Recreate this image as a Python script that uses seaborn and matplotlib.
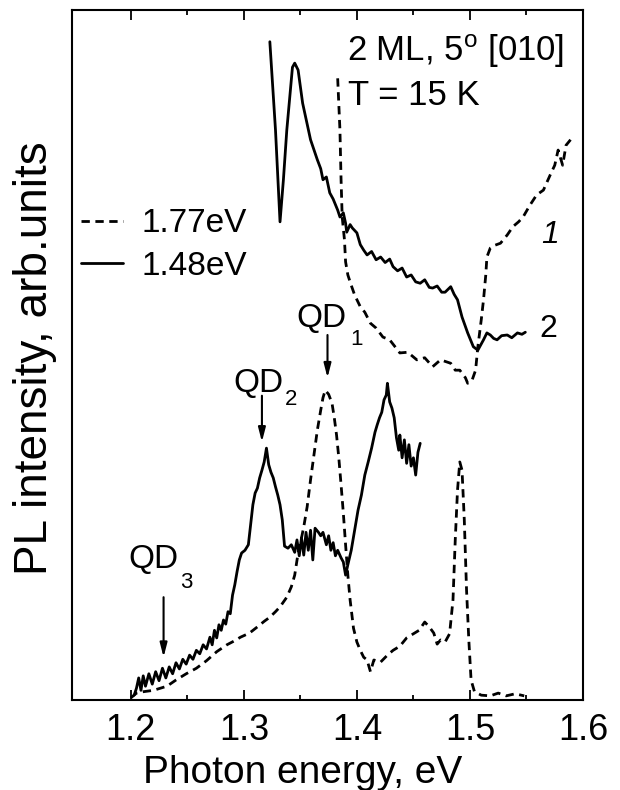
import numpy as np
import pandas as pd
import matplotlib
matplotlib.use("Agg")
import matplotlib.pyplot as plt
import seaborn as sns

# ---------------- data ----------------
# Excitation 1.48 eV (solid), lower spectrum
e148_low = [1.203, 1.205, 1.207, 1.209, 1.211, 1.213, 1.216, 1.219, 1.222, 1.225, 1.228, 1.231,
            1.234, 1.237, 1.240, 1.243, 1.246, 1.249, 1.252, 1.255, 1.258, 1.261, 1.264, 1.267,
            1.270, 1.272, 1.274, 1.276, 1.278, 1.280, 1.282, 1.284, 1.286, 1.288, 1.290, 1.292,
            1.294, 1.296, 1.298, 1.301, 1.304, 1.306, 1.308, 1.310, 1.312, 1.314, 1.316, 1.318,
            1.320, 1.322, 1.324, 1.326, 1.328, 1.330, 1.332, 1.334, 1.336, 1.339, 1.342, 1.345,
            1.347, 1.349, 1.351, 1.353, 1.355, 1.357, 1.359, 1.361, 1.363, 1.366, 1.368, 1.370,
            1.373, 1.375, 1.377, 1.379, 1.381, 1.383, 1.386, 1.388, 1.390, 1.392, 1.395, 1.398,
            1.401, 1.404, 1.407, 1.410, 1.413, 1.416, 1.418, 1.420, 1.422, 1.424, 1.426, 1.427,
            1.429, 1.431, 1.433, 1.435, 1.437, 1.438, 1.440, 1.442, 1.444, 1.446, 1.448, 1.450,
            1.452, 1.454, 1.456]
pl148_low = [0.7, 1.7, 3.2, 1.4, 3.5, 2.0, 3.8, 2.3, 4.1, 2.8, 4.6, 3.2,
             4.8, 3.8, 5.4, 4.5, 5.9, 5.2, 6.5, 5.9, 7.2, 6.7, 8.0, 7.4,
             9.1, 8.0, 10.1, 9.0, 10.9, 10.1, 11.6, 11.0, 12.8, 12.5, 15.2, 16.7,
             18.6, 20.3, 21.3, 21.7, 22.5, 25.4, 28.3, 30.0, 30.7, 32.2, 33.3, 34.5,
             36.5, 34.1, 33.0, 32.2, 30.9, 29.7, 28.3, 26.1, 22.3, 22.0, 22.5, 21.4,
             23.2, 20.9, 23.5, 21.0, 24.3, 21.7, 24.6, 20.3, 24.9, 24.3, 23.8, 24.3,
             22.5, 23.8, 21.7, 22.8, 20.9, 21.7, 20.6, 20.0, 18.1, 19.6, 21.7, 24.6,
             27.5, 29.7, 32.6, 34.5, 36.5, 38.8, 39.9, 40.9, 41.7, 43.5, 44.2, 45.9,
             43.2, 42.3, 40.9, 38.0, 36.2, 38.4, 35.1, 37.7, 34.3, 37.0, 33.9, 35.1,
             32.6, 35.9, 37.2]

# Excitation 1.48 eV (solid), upper spectrum
e148_up = [1.323, 1.328, 1.332, 1.335, 1.338, 1.343, 1.345, 1.348, 1.352, 1.359, 1.365,
           1.368, 1.370, 1.373, 1.376, 1.379, 1.383, 1.385, 1.388, 1.390, 1.391, 1.394,
           1.396, 1.400, 1.403, 1.406, 1.409, 1.413, 1.417, 1.421, 1.425, 1.429, 1.432,
           1.436, 1.440, 1.444, 1.448, 1.452, 1.456, 1.460, 1.464, 1.467, 1.471, 1.475,
           1.478, 1.483, 1.486, 1.489, 1.493, 1.498, 1.503, 1.507, 1.510, 1.512, 1.515,
           1.518, 1.521, 1.524, 1.528, 1.533, 1.537, 1.542, 1.546, 1.549]
pl148_up = [95.4, 82.6, 69.3, 75.4, 82.6, 91.7, 92.3, 91.3, 86.5, 81.2, 78.3,
            77.0, 75.4, 75.8, 73.5, 72.6, 71.0, 70.0, 70.6, 69.1, 67.8, 68.9,
            68.4, 67.7, 66.0, 65.2, 64.5, 65.0, 63.8, 64.2, 63.4, 63.9, 62.8,
            62.2, 62.6, 61.3, 61.6, 60.6, 60.4, 60.9, 59.8, 59.7, 60.0, 59.1,
            59.1, 59.9, 58.8, 58.0, 55.5, 53.2, 51.2, 50.7, 51.6, 52.2, 53.2,
            52.9, 52.4, 52.2, 52.8, 52.9, 52.5, 53.2, 53.0, 53.3]

# Excitation 1.77 eV (dashed), lower spectrum
e177_low = [1.200, 1.205, 1.211, 1.220, 1.232, 1.240, 1.249, 1.258, 1.267, 1.276, 1.285,
            1.292, 1.297, 1.305, 1.312, 1.318, 1.323, 1.328, 1.332, 1.338, 1.342, 1.345,
            1.348, 1.351, 1.353, 1.356, 1.359, 1.362, 1.365, 1.368, 1.370, 1.372, 1.375,
            1.378, 1.380, 1.382, 1.384, 1.386, 1.388, 1.390, 1.392, 1.394, 1.397, 1.400,
            1.403, 1.406, 1.409, 1.412, 1.415, 1.421, 1.427, 1.432, 1.438, 1.444, 1.450,
            1.455, 1.460, 1.464, 1.468, 1.471, 1.474, 1.478, 1.482, 1.485, 1.487, 1.489,
            1.491, 1.493, 1.495, 1.497, 1.499, 1.501, 1.504, 1.510, 1.518, 1.525, 1.532,
            1.540, 1.548]
pl177_low = [0.3, 1.0, 1.2, 1.4, 2.0, 2.9, 3.8, 4.6, 5.7, 7.0, 8.0,
             8.6, 9.1, 9.7, 10.6, 11.4, 12.0, 12.8, 13.5, 14.9, 16.4, 18.1,
             21.3, 23.5, 25.1, 28.0, 31.9, 35.5, 39.1, 42.0, 43.8, 44.9, 44.3,
             43.0, 40.9, 38.4, 35.1, 31.2, 27.1, 22.5, 18.1, 14.5, 10.4, 8.4,
             7.2, 6.2, 5.8, 4.1, 5.8, 5.5, 6.5, 7.2, 7.8, 9.0, 9.6,
             10.1, 11.3, 10.6, 9.7, 8.1, 8.7, 8.4, 9.6, 14.5, 23.2, 30.4,
             34.5, 33.3, 26.1, 15.9, 8.7, 2.9, 1.2, 0.7, 0.6, 1.0, 0.6,
             0.9, 0.6]

# Excitation 1.77 eV (dashed), upper spectrum
e177_up = [1.383, 1.385, 1.386, 1.387, 1.389, 1.390, 1.392, 1.395, 1.398, 1.403, 1.407,
           1.412, 1.417, 1.423, 1.429, 1.438, 1.445, 1.453, 1.460, 1.467, 1.474, 1.483,
           1.487, 1.491, 1.496, 1.498, 1.502, 1.505, 1.507, 1.510, 1.512, 1.514, 1.515,
           1.518, 1.522, 1.527, 1.533, 1.538, 1.543, 1.547, 1.553, 1.559, 1.565, 1.571,
           1.575, 1.578, 1.582, 1.585, 1.589]
pl177_up = [90.1, 82.6, 75.4, 70.0, 66.7, 63.5, 61.6, 60.1, 58.7, 57.0, 56.2,
            54.6, 53.9, 52.6, 52.2, 50.3, 50.4, 49.3, 49.6, 48.3, 49.3, 48.8,
            47.8, 47.8, 46.7, 45.9, 46.4, 47.8, 51.2, 55.1, 58.0, 61.6, 64.2,
            65.5, 65.9, 66.2, 67.4, 68.6, 69.3, 70.0, 71.7, 73.2, 73.9, 76.1,
            77.5, 79.7, 77.5, 80.4, 81.2]

excitations = ["1.77eV", "1.48eV"]
qd_names = ["1", "2", "3"]
qd_energy = [1.374, 1.316, 1.229]
qd_arrow_top = [52.9, 44.1, 14.9]
qd_arrow_tip = [46.7, 37.4, 6.2]
xticks = [1.2, 1.3, 1.4, 1.5, 1.6]
xtick_labels = ["1.2", "1.3", "1.4", "1.5", "1.6"]
xticks_minor = [1.25, 1.35, 1.45, 1.55]

# ---------------- assemble ----------------
frames = []
for e, p, exc, seg in [(e177_up, pl177_up, "1.77eV", "a"), (e177_low, pl177_low, "1.77eV", "b"),
                       (e148_up, pl148_up, "1.48eV", "c"), (e148_low, pl148_low, "1.48eV", "d")]:
    frames.append(pd.DataFrame({"E": e, "PL": p, "exc": exc, "seg": seg}))
df = pd.concat(frames, ignore_index=True)

sns.set_theme(style="ticks")
plt.rcParams["font.family"] = ["Liberation Sans", "DejaVu Sans"]
plt.rcParams["mathtext.fontset"] = "custom"
plt.rcParams["mathtext.rm"] = "Liberation Sans"
plt.rcParams["mathtext.it"] = "Liberation Sans:italic"
plt.rcParams["text.color"] = "black"
plt.rcParams["axes.labelcolor"] = "black"
plt.rcParams["xtick.color"] = "black"
plt.rcParams["ytick.color"] = "black"
plt.rcParams["axes.edgecolor"] = "black"

fig = plt.figure(figsize=(6.2, 7.9), dpi=100)
ax = fig.add_axes([72 / 620, 90 / 790, 511 / 620, 690 / 790])

sns.lineplot(data=df, x="E", y="PL", style="exc", style_order=excitations,
             units="seg", estimator=None, sort=False, color="black",
             dashes={"1.77eV": (3, 2), "1.48eV": ""}, linewidth=2.0, ax=ax)

ax.set_xlim(1.148, 1.600)
ax.set_ylim(0, 100)
ax.set_yticks([])
ax.set_xticks(xticks)
ax.set_xticklabels(xtick_labels)
ax.set_xticks(xticks_minor, minor=True)
ax.tick_params(axis="x", which="both", direction="in", top=True, bottom=True,
               width=1.3, color="black", labelcolor="black", labelsize=26, pad=9)
ax.tick_params(axis="x", which="major", length=7)
ax.tick_params(axis="x", which="minor", length=3.6)
for s in ax.spines.values():
    s.set_linewidth(1.5)
    s.set_color("black")

ax.set_xlabel("Photon energy, eV", fontsize=28, color="black")
ax.xaxis.set_label_coords(0.452, -0.079)
ax.set_ylabel("PL intensity, arb.units", fontsize=33, color="black")
ax.yaxis.set_label_coords(-0.03, 0.495)

handles, labels = ax.get_legend_handles_labels()
for h in handles:
    h.set_linewidth(2.0)
    h.set_color("black")
leg = ax.legend(handles, labels, loc="center left", bbox_to_anchor=(0.018, 0.659),
                frameon=False, fontsize=24, handlelength=1.25, handletextpad=0.55,
                labelspacing=0.35, borderpad=0, borderaxespad=0)
for t in leg.get_texts():
    t.set_color("black")

T = ax.transAxes
ax.text(0.538, 0.926, r"2 ML, 5$^{\mathregular{o}}$ [010]", transform=T, fontsize=25,
        ha="left", va="baseline", color="black")
ax.text(0.540, 0.862, "T = 15 K", transform=T, fontsize=25, ha="left", va="baseline",
        color="black")
ax.text(0.935, 0.662, "1", transform=T, fontsize=23, ha="center", va="baseline",
        style="italic", color="black")
ax.text(0.932, 0.526, "2", transform=T, fontsize=23, ha="center", va="baseline",
        color="black")

qd_text_pos = [(0.440, 0.5406), (0.315, 0.4464), (0.1096, 0.1913)]
qd_sub_pos = [(0.544, 0.5145), (0.417, 0.4275), (0.2114, 0.1623)]
for name, (tx, ty), (sx, sy) in zip(qd_names, qd_text_pos, qd_sub_pos):
    ax.text(tx, ty, "QD", transform=T, fontsize=24, ha="left", va="baseline", color="black")
    ax.text(sx, sy, name, transform=T, fontsize=16, ha="left", va="baseline", color="black")

for e, y0, y1 in zip(qd_energy, qd_arrow_top, qd_arrow_tip):
    ax.annotate("", xy=(e, y1), xytext=(e, y0),
                arrowprops=dict(arrowstyle="-|>,head_length=0.7,head_width=0.18",
                                color="black", lw=1.5, shrinkA=0, shrinkB=0))

fig.savefig("out.png", dpi=100)
